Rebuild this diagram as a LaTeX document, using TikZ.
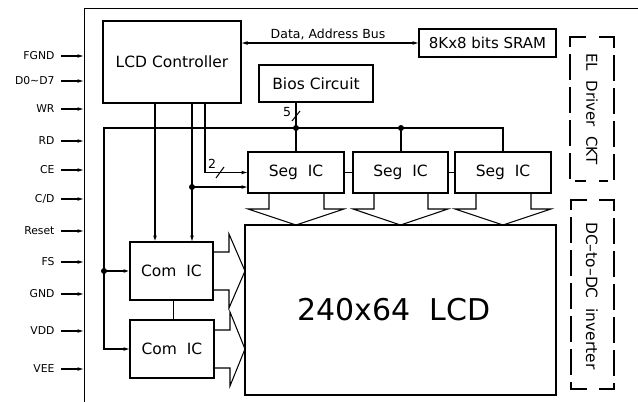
\documentclass[tikz,border=0pt]{standalone}
\usepackage{fontspec}
\setmainfont{DejaVu Sans}
\usetikzlibrary{arrows.meta,calc}
\begin{document}
\begin{tikzpicture}[x=1pt,y=-1pt,line width=1.05pt,
  box/.style={draw,rectangle,inner sep=0pt,outer sep=0pt,font=\fontsize{15.5}{18}\selectfont},
  pinlbl/.style={anchor=east,inner sep=0pt,font=\fontsize{10.8}{12}\selectfont},
  smalllbl/.style={inner sep=0pt,font=\fontsize{12.5}{14}\selectfont},
  arr/.style={-{Latex[length=6.5pt,width=3.8pt]}},
  bidir/.style={{Latex[length=6.5pt,width=3.8pt]}-{Latex[length=6.5pt,width=3.8pt]}},
  heavy/.style={line width=1.8pt},
  dot/.style={circle,fill,inner sep=0pt,minimum size=6pt},
  bracket/.style={dash pattern=on 26pt off 7pt},
  sidelbl/.style={rotate=-90,inner sep=0pt,font=\fontsize{15}{18}\selectfont}]
\useasboundingbox (0,0) rectangle (638,402);

% outer frame
\coordinate (frBL) at (84.5,402);
\coordinate (frTL) at (84.5,8.5);
\coordinate (frTR) at (638,8.5);
\draw (frBL) -- (frTL) -- (frTR);

% pins
\foreach \n/\t/\yy in {fgnd/FGND/56, dd/D0\textasciitilde D7/81, wr/WR/109, rd/RD/141, ce/CE/170, cd/{C/D}/199, rst/Reset/231, fs/FS/262, gnd/GND/294, vdd/VDD/331, vee/VEE/369}{
  \node[pinlbl] (p\n) at (55,\yy) {\t};
  \coordinate (f\n) at (84,\yy);
  \draw[arr] ([xshift=6pt]p\n.east) -- (f\n);
}

% boxes
\node[box,minimum width=138pt,minimum height=82pt] (lcdc) at (172,62) {LCD Controller};
\node[box,minimum width=137pt,minimum height=28pt,font=\fontsize{15}{18}\selectfont] (sram) at (487.5,43) {8Kx8 bits SRAM};
\node[box,minimum width=114pt,minimum height=37pt] (bias) at (316,83.5) {Bios Circuit};
\node[box,minimum width=96pt,minimum height=41pt] (seg1) at (296,172.5) {Seg\ \ IC};
\node[box,minimum width=95pt,minimum height=41pt] (seg2) at (400.5,172.5) {Seg\ \ IC};
\node[box,minimum width=96pt,minimum height=41pt] (seg3) at (503,172.5) {Seg\ \ IC};
\node[box,minimum width=83pt,minimum height=58pt] (com1) at (171.5,271) {Com\ \ IC};
\node[box,minimum width=84pt,minimum height=58pt] (com2) at (172,349) {Com\ \ IC};
\node[box,minimum width=311pt,minimum height=170pt] (lcd) at (400.5,310) {};
\node[inner sep=0pt,font=\fontsize{30}{34}\selectfont] (lcdtxt) at (394,310) {240x64\ \ LCD};

% data bus
\draw[bidir] (lcdc.east |- sram.west) -- (sram.west);
\node[smalllbl] (buslbl) at (328,34) {Data,\ Address\ Bus};

% bias to seg1
\coordinate (j1) at (296,128);
\draw (bias.south -| j1) -- (seg1.north);
\draw ($(bias.south -| j1)+(-4,19)$) -- ($(bias.south -| j1)+(4,9)$);
\node[smalllbl] (n5) at (287,112) {5};

% common bus
\coordinate (busL) at (104,128);
\coordinate (busR) at (503,128);
\coordinate (j2) at (401,128);
\coordinate (jc) at (104,271);
\draw[arr] (seg3.north) -- (busR) -- (busL) -- (busL |- com2.west) -- (com2.west);
\draw (j2) -- (j2 |- seg2.north);
\draw[arr,heavy] (jc) -- (com1.west);
\node[dot] (d1) at (j1) {};
\node[dot] (d2) at (j2) {};
\node[dot] (dc) at (jc) {};

% controller outputs
\coordinate (cA) at ([xshift=-17pt]lcdc.south);
\draw[arr,heavy] (cA) -- (cA |- com1.north);
\coordinate (cB) at ([xshift=20pt]lcdc.south);
\draw[arr] (cB) -- (cB |- com1.north);
\coordinate (jB) at (192,187);
\draw[arr] (jB) -- (jB -| seg1.west);
\node[dot] (dB) at (jB) {};
\coordinate (cC) at ([xshift=33pt]lcdc.south);
\draw[arr] (cC) |- (seg1.west);
\draw ($(cC |- seg1.west)+(11,5.5)$) -- ($(cC |- seg1.west)+(19,-5.5)$);
\node[smalllbl] (n2) at (212,164) {2};

% seg interconnects
\draw (seg1.east) -- (seg2.west);
\draw (seg2.east) -- (seg3.west);
\draw ([xshift=2pt]com1.south) -- ([xshift=2pt]com1.south |- com2.north);

% block arrows from seg ICs
\foreach \s in {seg1,seg2,seg3}{
  \draw ([xshift=21pt]\s.south west) -- ([xshift=21pt,yshift=-16pt]\s.south west)
     -- ([yshift=-16pt]\s.south west) -- (\s.south |- lcd.north)
     -- ([yshift=-16pt]\s.south east) -- ([xshift=-20pt,yshift=-16pt]\s.south east)
     -- ([xshift=-20pt]\s.south east);
}
% block arrows from com ICs
\foreach \s in {com1,com2}{
  \draw ([yshift=-10pt]\s.north east) -- ([xshift=16pt,yshift=-10pt]\s.north east)
     -- ([xshift=16pt,yshift=8pt]\s.north east) -- (\s.east -| lcd.west)
     -- ([xshift=16pt,yshift=-8pt]\s.south east) -- ([xshift=16pt,yshift=10pt]\s.south east)
     -- ([yshift=10pt]\s.south east);
}

% dashed side blocks
\coordinate (elTL) at (570,37); \coordinate (elTR) at (614,37);
\coordinate (elBL) at (570,181); \coordinate (elBR) at (614,181);
\draw[bracket] ($(elTL)+(16,0)$) -- (elTL) -- (elBL) -- ($(elBL)+(16,0)$);
\draw[bracket] ($(elTR)+(-15,0)$) -- (elTR) -- (elBR) -- ($(elBR)+(-15,0)$);
\node[sidelbl] (el) at (592,109) {EL\ \ Driver\ \ CKT};

\coordinate (dcTL) at (571,200); \coordinate (dcTR) at (614,200);
\coordinate (dcBL) at (571,389); \coordinate (dcBR) at (614,389);
\draw[bracket] ($(dcTL)+(16,0)$) -- (dcTL) -- (dcBL) -- ($(dcBL)+(16,0)$);
\draw[bracket] ($(dcTR)+(-15,0)$) -- (dcTR) -- (dcBR) -- ($(dcBR)+(-15,0)$);
\node[sidelbl,font=\fontsize{15.5}{18}\selectfont] (dcdc) at (592,296) {DC–to–DC\ \ inverter};
\end{tikzpicture}
\end{document}
